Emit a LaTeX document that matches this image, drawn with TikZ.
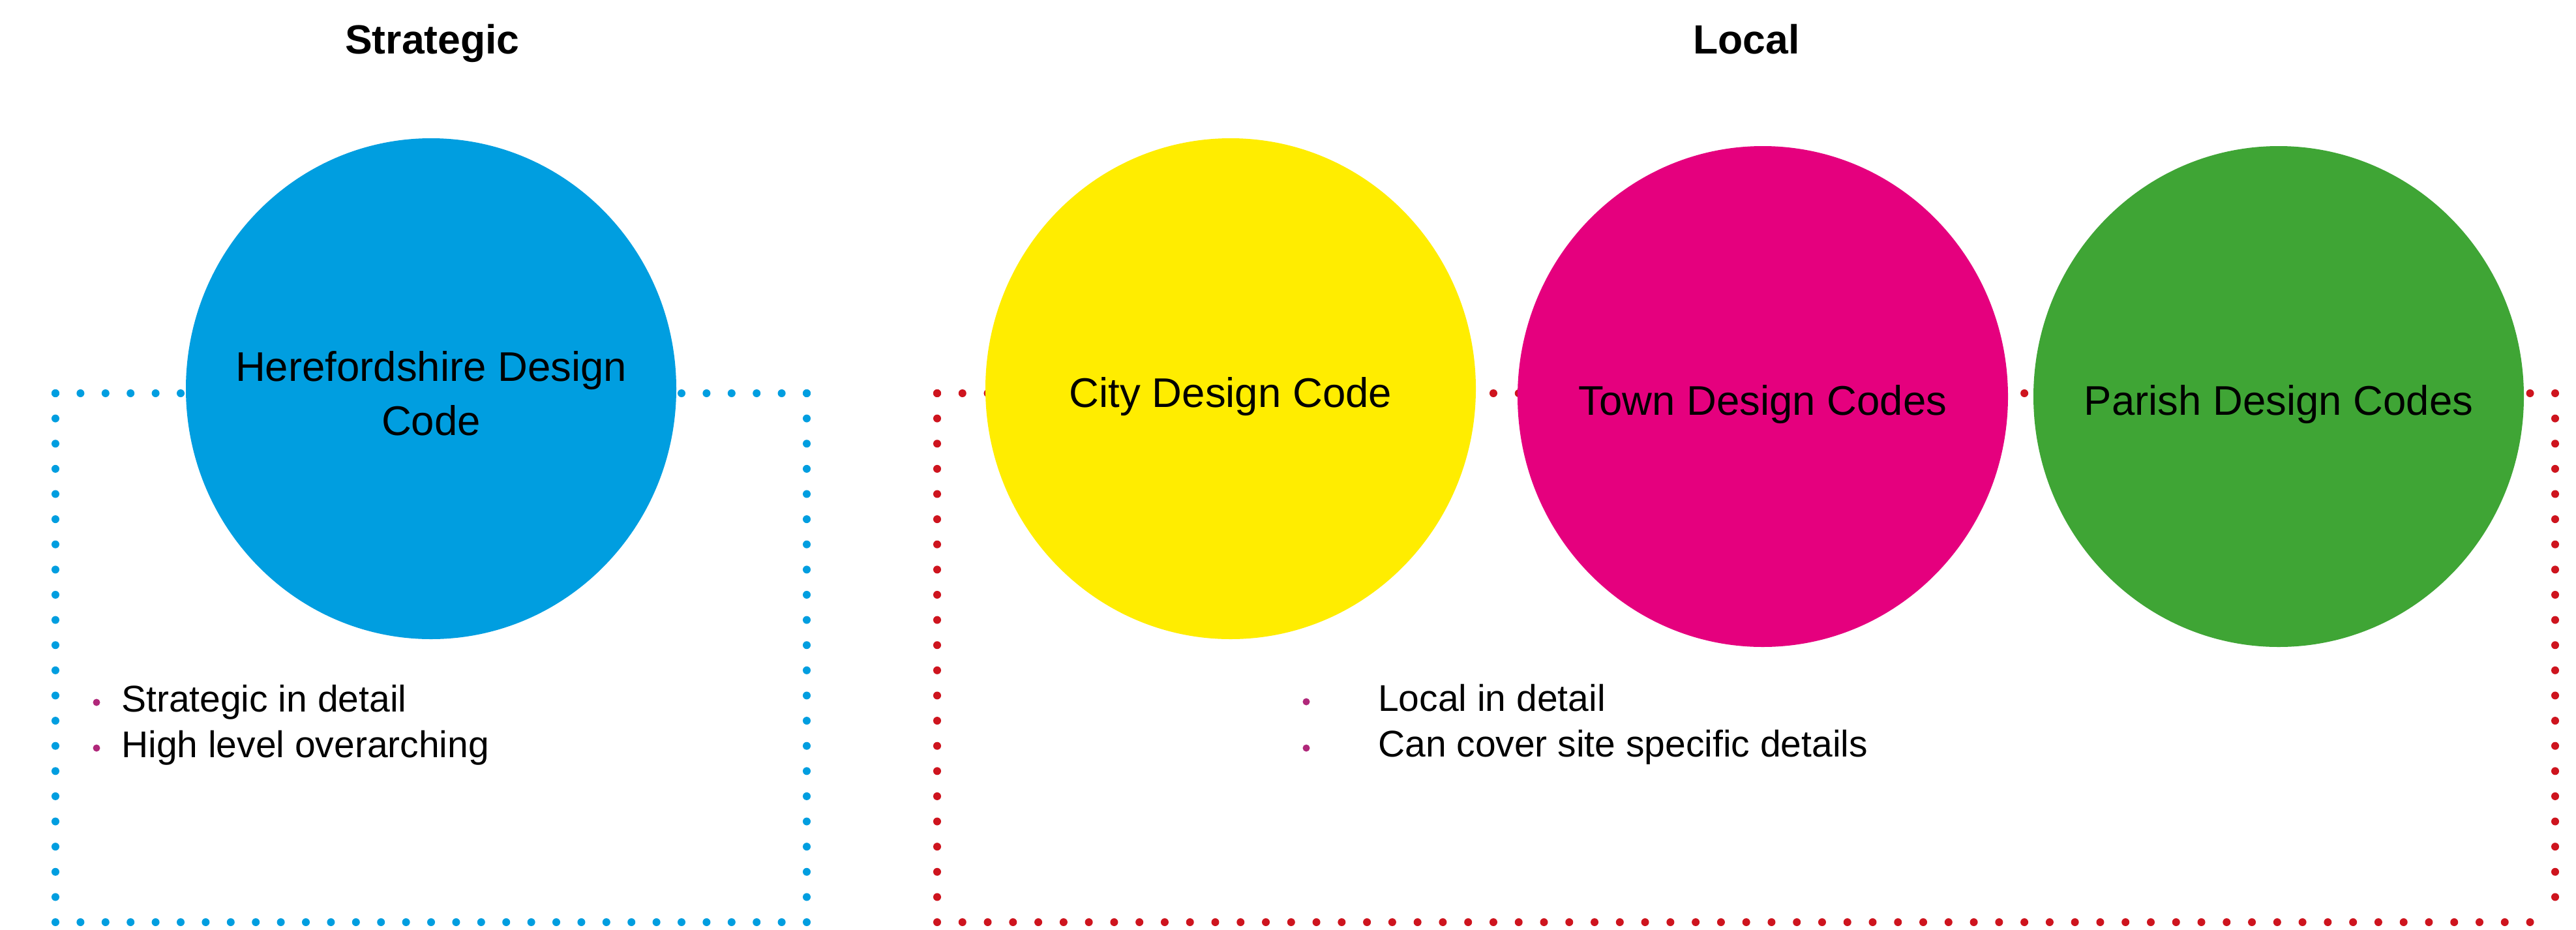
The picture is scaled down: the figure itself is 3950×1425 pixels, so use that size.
\documentclass[tikz,border=0pt]{standalone}
\usepackage{fontspec}
\setmainfont{Liberation Sans}
\definecolor{hblue}{RGB}{0,158,224}
\definecolor{hyellow}{RGB}{255,237,0}
\definecolor{hmagenta}{RGB}{229,0,126}
\definecolor{hgreen}{RGB}{63,165,53}
\definecolor{hred}{RGB}{206,20,30}
\definecolor{hbullet}{RGB}{176,40,122}
\tikzset{
  dots/.style={line width=12pt, line cap=round, dash pattern=on 0pt off #1},
  blobtext/.style={anchor=base, inner sep=0pt, align=center,
    font=\fontsize{63.5}{83}\selectfont, text=black},
  title/.style={anchor=base, inner sep=0pt, font=\fontsize{62.5}{75}\selectfont\bfseries, text=black},
  item/.style={anchor=base west, inner sep=0pt, font=\fontsize{57}{68}\selectfont, text=black},
  bul/.style={circle, fill=hbullet, minimum size=11pt, inner sep=0pt},
}
\begin{document}
\begin{tikzpicture}[x=1pt,y=-1pt]
\useasboundingbox[fill=white] (0,0) rectangle (3950,1425);
% dotted frames
\coordinate (bTL) at (85,603);
\coordinate (bTR) at (1237,603);
\coordinate (bBR) at (1237,1414);
\coordinate (bBL) at (85,1414);
\draw[dots=38.4pt, hblue] (bTL) -- (bTR);
\draw[dots=38.62pt, hblue] (bTR) -- (bBR);
\draw[dots=38.4pt, hblue] (bBL) -- (bBR);
\draw[dots=38.62pt, hblue] (bTL) -- (bBL);
\coordinate (rTL) at (1437,603);
\coordinate (rTR) at (3918,603);
\coordinate (rBR) at (3918,1414);
\coordinate (rBL) at (1437,1414);
\draw[dots=38.77pt, hred] (rTL) -- (rTR);
\draw[dots=38.62pt, hred] (rTR) -- (rBR);
\draw[dots=38.77pt, hred] (rBL) -- (rBR);
\draw[dots=38.62pt, hred] (rTL) -- (rBL);
% titles
\node[title] (tstrat) at (663,82) {Strategic};
\node[title] (tlocal) at (2678,82) {Local};
% circles
\fill[hblue] (661,596) ellipse [x radius=376, y radius=384];
\fill[hyellow] (1887,596) ellipse [x radius=376, y radius=384];
\fill[hmagenta] (2703,608) ellipse [x radius=376, y radius=384];
\fill[hgreen] (3494,608) ellipse [x radius=376, y radius=384];
\node[blobtext] (here1) at (661,584) {Herefordshire Design};
\node[blobtext] (here2) at (661,667) {Code};
\node[blobtext] (city) at (1887,624) {City Design Code};
\node[blobtext] (town) at (2703,636) {Town Design Codes};
\node[blobtext] (parish) at (3494,636) {Parish Design Codes};
% bullet lists
\node[bul] (b1) at (148,1077) {};
\node[item] (s1) at (186,1091) {Strategic in detail};
\node[bul] (b2) at (148,1147) {};
\node[item] (s2) at (186,1161) {High level overarching};
\node[bul] (b3) at (2003,1076) {};
\node[item] (l1) at (2113,1090) {Local in detail};
\node[bul] (b4) at (2003,1147) {};
\node[item] (l2) at (2113,1160) {Can cover site specific details};
\end{tikzpicture}
\end{document}
